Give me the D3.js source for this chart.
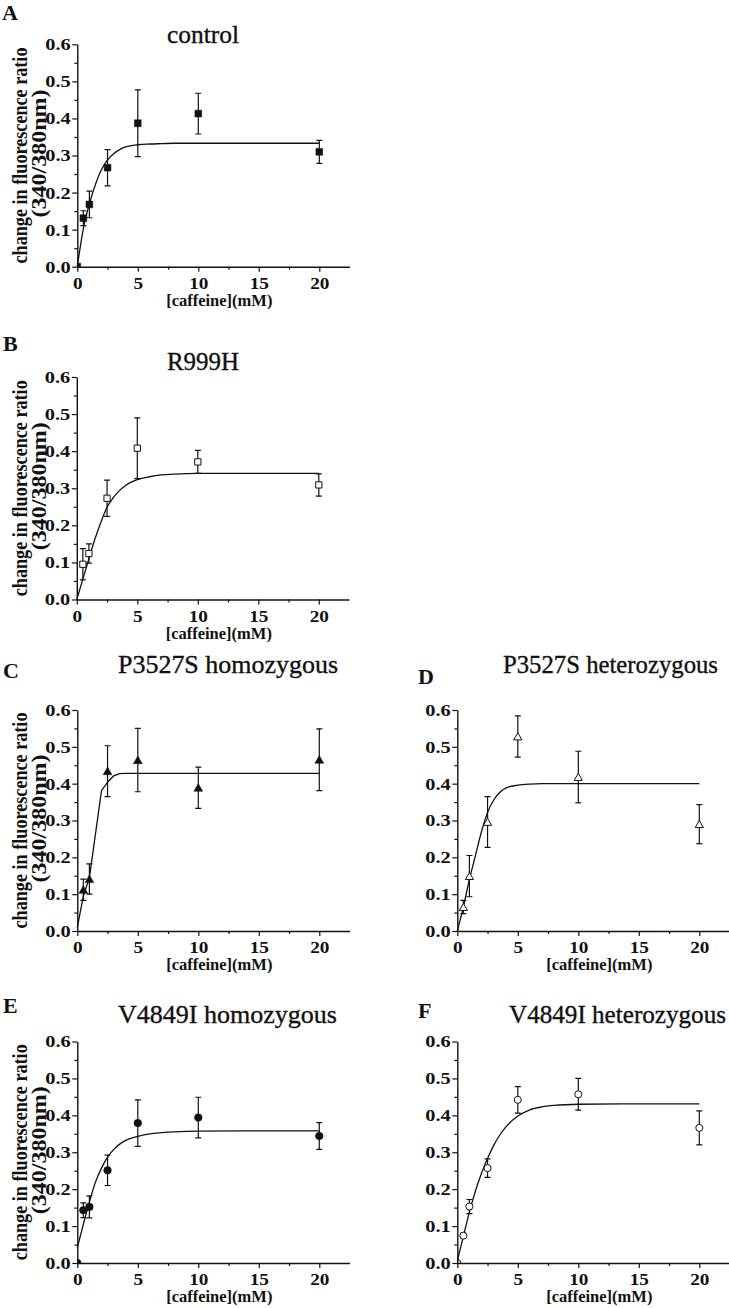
<!DOCTYPE html>
<html><head><meta charset="utf-8">
<script src="https://cdn.jsdelivr.net/npm/d3@7"></script>
<style>
body{margin:0;background:#fff}
svg text{font-family:"Liberation Serif","Times New Roman",serif;fill:#111}
</style>
</head><body>
<svg id="c" width="729" height="1308"></svg>
<script>
// ---------- data ----------
const doses = [0.5, 1, 2.5, 5, 10, 20];
const xTicks = [0, 5, 10, 15, 20];
const xMinorTicks = [2.5, 7.5, 12.5, 17.5];
const yTicks = [0, 0.1, 0.2, 0.3, 0.4, 0.5, 0.6];
const yMinorTicks = [0.05, 0.15, 0.25, 0.35, 0.45, 0.55];
const fitDoses = [0, 0.5, 1, 1.5, 2, 2.5, 3, 3.5, 4, 5, 6, 7, 8, 10, 15, 20];
const fitDosesC = [0, 0.5, 1, 2, 2.5, 3, 3.5, 4, 5, 10, 20];

const titles = ["control", "R999H", "P3527S homozygous", "P3527S heterozygous", "V4849I homozygous", "V4849I heterozygous"];
const letters = ["A", "B", "C", "D", "E", "F"];

const controlMean = [0.131, 0.168, 0.267, 0.387, 0.413, 0.310];
const controlErr  = [0.020, 0.036, 0.049, 0.090, 0.055, 0.031];
const controlFit  = [0, 0.103, 0.170, 0.222, 0.262, 0.288, 0.305, 0.316, 0.323, 0.329, 0.331, 0.332, 0.333, 0.333, 0.333, 0.333];

const r999hMean = [0.095, 0.124, 0.273, 0.408, 0.371, 0.309];
const r999hErr  = [0.042, 0.026, 0.049, 0.082, 0.031, 0.030];
const r999hFit  = [0, 0.055, 0.110, 0.163, 0.209, 0.249, 0.274, 0.293, 0.307, 0.323, 0.331, 0.336, 0.338, 0.340, 0.340, 0.340];

const p3527homMean = [0.112, 0.141, 0.434, 0.464, 0.389, 0.465];
const p3527homErr  = [0.029, 0.041, 0.069, 0.086, 0.056, 0.084];
const p3527homFit  = [0.010, 0.095, 0.145, 0.381, 0.404, 0.421, 0.427, 0.428, 0.428, 0.428, 0.428];

const p3527hetMean = [0.065, 0.149, 0.296, 0.528, 0.418, 0.290];
const p3527hetErr  = [0.018, 0.056, 0.069, 0.056, 0.070, 0.053];
const p3527hetFit  = [0, 0.065, 0.140, 0.205, 0.270, 0.322, 0.355, 0.376, 0.388, 0.396, 0.399, 0.400, 0.400, 0.400, 0.400, 0.400];

const v4849homMean = [0.143, 0.152, 0.251, 0.379, 0.394, 0.344];
const v4849homErr  = [0.020, 0.030, 0.041, 0.063, 0.055, 0.036];
const v4849homFit  = [0.041, 0.105, 0.165, 0.219, 0.257, 0.287, 0.307, 0.322, 0.332, 0.343, 0.350, 0.353, 0.355, 0.357, 0.358, 0.358];

const v4849hetMean = [0.074, 0.153, 0.257, 0.442, 0.457, 0.366];
const v4849hetErr  = [0.006, 0.019, 0.025, 0.036, 0.043, 0.046];
const v4849hetFit  = [0.005, 0.072, 0.138, 0.195, 0.243, 0.283, 0.318, 0.346, 0.368, 0.398, 0.415, 0.423, 0.427, 0.430, 0.431, 0.431];

// ---------- layout / style ----------
const series = [
  {mean: controlMean, err: controlErr, fx: fitDoses, fy: controlFit, sym: d3.symbolSquare, filled: true, origin: true, linear: false},
  {mean: r999hMean, err: r999hErr, fx: fitDoses, fy: r999hFit, sym: d3.symbolSquare, filled: false, origin: false, linear: false},
  {mean: p3527homMean, err: p3527homErr, fx: fitDosesC, fy: p3527homFit, sym: d3.symbolTriangle, filled: true, origin: false, linear: true},
  {mean: p3527hetMean, err: p3527hetErr, fx: fitDoses, fy: p3527hetFit, sym: d3.symbolTriangle, filled: false, origin: false, linear: false},
  {mean: v4849homMean, err: v4849homErr, fx: fitDoses, fy: v4849homFit, sym: d3.symbolCircle, filled: true, origin: true, linear: false},
  {mean: v4849hetMean, err: v4849hetErr, fx: fitDoses, fy: v4849hetFit, sym: d3.symbolCircle, filled: false, origin: true, linear: false}
];
const layout = [
  {left: 77.3, top: 44.3, bottom: 266.7, ylab: true, tx: 167, ty: 43, tlen: 72, lx: 2, ly: 20},
  {left: 76.8, top: 377, bottom: 599.5, ylab: true, tx: 167, ty: 370, tlen: 72, lx: 3, ly: 351},
  {left: 77.3, top: 710, bottom: 931, ylab: true, tx: 118, ty: 673, tlen: 220, lx: 3, ly: 678},
  {left: 457.3, top: 710, bottom: 931, ylab: false, tx: 503, ty: 673, tlen: 215, lx: 418, ly: 684},
  {left: 77.3, top: 1041.5, bottom: 1263, ylab: true, tx: 118, ty: 1023, tlen: 219, lx: 3, ly: 1013},
  {left: 457.3, top: 1041.5, bottom: 1263, ylab: false, tx: 509, ty: 1023, tlen: 217, lx: 418, ly: 1018}
];
const unit = 12.1;
const svg = d3.select("#c");
const ink = "#111";

layout.forEach((L, i) => {
  const S = series[i];
  const x = d3.scaleLinear().domain([0, 22.5]).range([L.left, L.left + 22.5 * unit]);
  const y = d3.scaleLinear().domain([0, 0.6]).range([L.bottom, L.top]);
  const g = svg.append("g");

  const clipId = "clip" + i;
  svg.append("clipPath").attr("id", clipId).append("rect")
    .attr("x", x(0)).attr("y", y(0.6) - 20).attr("width", x(22.5) - x(0) + 5).attr("height", y(0) - y(0.6) + 20);

  // fit curve
  const line = d3.line().x(d => x(d[0])).y(d => y(d[1]))
    .curve(S.linear ? d3.curveLinear : d3.curveMonotoneX);
  g.append("path").attr("d", line(S.fx.map((d, k) => [d, S.fy[k]])))
    .attr("fill", "none").attr("stroke", ink).attr("stroke-width", 1.3);

  const dg = g.append("g").attr("clip-path", `url(#${clipId})`);
  // error bars
  doses.forEach((d, k) => {
    const m = S.mean[k], e = S.err[k];
    const cx = x(d);
    dg.append("line").attr("x1", cx).attr("x2", cx).attr("y1", y(m - e)).attr("y2", y(m + e))
      .attr("stroke", ink).attr("stroke-width", 1.2);
    [m - e, m + e].forEach(v => {
      dg.append("line").attr("x1", cx - 3).attr("x2", cx + 3).attr("y1", y(v)).attr("y2", y(v))
        .attr("stroke", ink).attr("stroke-width", 1.2);
    });
  });
  // markers
  const pts = doses.map((d, k) => [d, S.mean[k]]);
  if (S.origin) pts.unshift([0, 0]);
  const size = S.sym === d3.symbolSquare ? 46 : (S.sym === d3.symbolTriangle ? 34 : 46);
  const sym = d3.symbol().type(S.sym).size(S.filled ? size : size * 0.85);
  pts.forEach(p => {
    const dy = S.sym === d3.symbolTriangle ? 1 : 0;
    dg.append("path").attr("d", sym())
      .attr("transform", `translate(${x(p[0])},${y(p[1]) + dy})`)
      .attr("fill", S.filled ? ink : "#fff")
      .attr("stroke", ink).attr("stroke-width", S.filled ? 0.5 : 1);
  });

  // axes
  const ax = g.append("g").attr("transform", `translate(0,${L.bottom})`)
    .call(d3.axisBottom(x).tickValues(xTicks).tickSize(5).tickSizeOuter(0).tickPadding(4).tickFormat(d3.format("d")));
  const axm = g.append("g").attr("transform", `translate(0,${L.bottom})`)
    .call(d3.axisBottom(x).tickValues(xMinorTicks).tickSize(3).tickSizeOuter(0).tickFormat(""));
  axm.select(".domain").remove();
  const ay = g.append("g").attr("transform", `translate(${L.left},0)`)
    .call(d3.axisLeft(y).tickValues(yTicks).tickSize(5).tickSizeOuter(0).tickPadding(3).tickFormat(d3.format(".1f")));
  const aym = g.append("g").attr("transform", `translate(${L.left},0)`)
    .call(d3.axisLeft(y).tickValues(yMinorTicks).tickSize(3).tickSizeOuter(0).tickFormat(""));
  aym.select(".domain").remove();
  [ax, axm, ay, aym].forEach(a => {
    a.attr("font-family", "Liberation Serif");
    a.selectAll(".domain").attr("stroke", ink).attr("stroke-width", 1.4);
    a.selectAll(".tick line").attr("stroke", ink).attr("stroke-width", 1.2);
  });
  ax.selectAll(".tick text").attr("font-size", 17.5).attr("font-weight", "bold")
    .attr("fill", ink)
    .attr("y", 10).attr("dy", "0.71em").attr("transform", "scale(1.1,1)");
  ay.selectAll(".tick text").attr("font-size", 17).attr("font-weight", "bold")
    .attr("fill", ink)
    .attr("x", -5.5).attr("transform", "scale(1.2,1)");

  // x label
  g.append("text").attr("x", L.left + 142).attr("y", L.bottom + 39)
    .attr("text-anchor", "middle").attr("font-size", 16.5).attr("font-weight", "bold")
    .text("[caffeine](mM)");

  // y label
  if (L.ylab) {
    const cy = (L.top + L.bottom) / 2;
    g.append("text").attr("transform", `translate(${L.left - 50},${cy}) rotate(-90)`)
      .attr("text-anchor", "middle").attr("font-size", 20).attr("font-weight", "bold")
      .attr("textLength", 216).attr("lengthAdjust", "spacingAndGlyphs")
      .text("change in fluorescence ratio");
    g.append("text").attr("transform", `translate(${L.left - 31},${cy - 2}) rotate(-90)`)
      .attr("text-anchor", "middle").attr("font-size", 20).attr("font-weight", "bold")
      .attr("textLength", 128).attr("lengthAdjust", "spacingAndGlyphs")
      .text("(340/380nm)");
  }

  // title
  const t = g.append("text").attr("x", L.tx).attr("y", L.ty).attr("font-size", 25)
    .attr("stroke", ink).attr("stroke-width", 0.35).text(titles[i]);
  if (L.tlen) t.attr("textLength", L.tlen).attr("lengthAdjust", "spacingAndGlyphs");

  // panel letter
  g.append("text").attr("x", L.lx).attr("y", L.ly).attr("font-size", 22).attr("font-weight", "bold").text(letters[i]);
});
</script>
</body></html>
